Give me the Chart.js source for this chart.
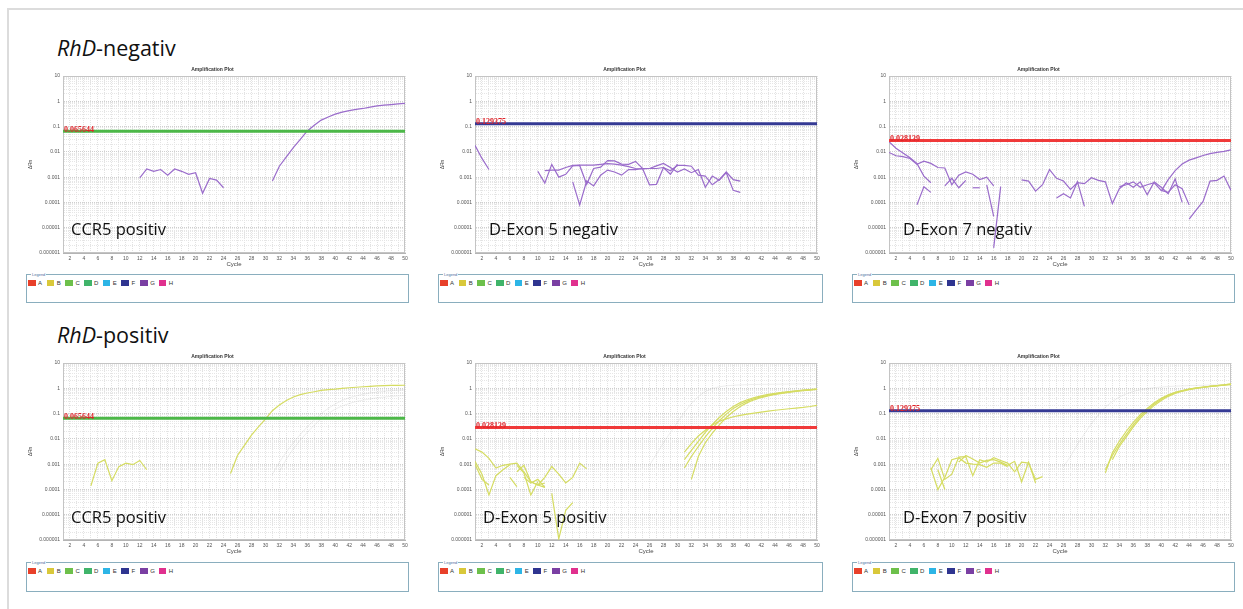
<!DOCTYPE html>
<html>
<head>
<meta charset="utf-8">
<script src="https://cdn.jsdelivr.net/npm/chart.js@4.4.1/dist/chart.umd.min.js"></script>
<style>
  body { margin: 0; background: #fff; width: 1243px; height: 609px; overflow: hidden; position: relative; font-family: "Open Sans", sans-serif; }
  .frame { position: absolute; left: 7px; top: 8px; width: 1300px; height: 700px; border-left: 2px solid #dcdcdc; border-top: 2px solid #dcdcdc; }
  .heading { position: absolute; font-size: 21.5px; line-height: 21.5px; color: #111; white-space: nowrap; }
  .note { position: absolute; font-size: 16.5px; line-height: 16.5px; color: #111; white-space: nowrap; }
  canvas { position: absolute; }
  .legend-box { position: absolute; border: 1px solid #8aaebe; }
  .legend-box .cap { position: absolute; left: 4px; top: -3px; font: 4px "Liberation Sans", Arial; color: #4a6fa0; background: #fff; padding: 0 1px; line-height: 5px; }
  .legend-box .items { position: absolute; left: 1px; top: 5px; display: flex; font: 6px "Liberation Sans", Arial; color: #333; line-height: 6px; }
  .legend-box .item { display: flex; align-items: center; width: 18.7px; }
  .legend-box .sw { width: 7.5px; height: 6px; margin-right: 2.5px; }
</style>
</head>
<body>
<div class="frame"></div>

<div class="heading" style="left:57px;top:37px"><i>RhD</i>-negativ</div>
<div class="heading" style="left:57px;top:324px"><i>RhD</i>-positiv</div>

<canvas id="c1" width="391" height="205" style="left:20px;top:63px"></canvas>
<canvas id="c2" width="391" height="205" style="left:432px;top:63px"></canvas>
<canvas id="c3" width="391" height="205" style="left:846px;top:63px"></canvas>
<canvas id="c4" width="391" height="205" style="left:20px;top:350px"></canvas>
<canvas id="c5" width="391" height="205" style="left:432px;top:350px"></canvas>
<canvas id="c6" width="391" height="205" style="left:846px;top:350px"></canvas>

<div class="note" style="left:71px;top:221px">CCR5 positiv</div>
<div class="note" style="left:489px;top:221px">D-Exon 5 negativ</div>
<div class="note" style="left:903px;top:221px">D-Exon 7 negativ</div>
<div class="note" style="left:71px;top:509px">CCR5 positiv</div>
<div class="note" style="left:483px;top:509px">D-Exon 5 positiv</div>
<div class="note" style="left:903px;top:509px">D-Exon 7 positiv</div>

<div class="legend-box" style="left:26px;top:274px;width:381px;height:27px"></div>
<div class="legend-box" style="left:438px;top:274px;width:383px;height:27px"></div>
<div class="legend-box" style="left:852px;top:274px;width:381px;height:27px"></div>
<div class="legend-box" style="left:26px;top:562px;width:381px;height:28px"></div>
<div class="legend-box" style="left:438px;top:562px;width:383px;height:28px"></div>
<div class="legend-box" style="left:852px;top:562px;width:381px;height:28px"></div>

<script>
// ── axis labels ────────────────────────────────────────────────────────────
const yDecades = [0.000001, 0.00001, 0.0001, 0.001, 0.01, 0.1, 1, 10];
const yTickLabels = ['0.000001', '0.00001', '0.0001', '0.001', '0.01', '0.1', '1', '10'];
const wellNames = ['A', 'B', 'C', 'D', 'E', 'F', 'G', 'H'];
const wellColors = ['#e8402a', '#d9c83a', '#6dc04b', '#40b46a', '#2db5e6', '#2f3590', '#7a3fa3', '#e0308e'];

// thresholds per assay
const ccr5Threshold = 0.065644;
const exon5NegThreshold = 0.129375;
const exon7NegThreshold = 0.028139;
const exon5PosThreshold = 0.028139;
const exon7PosThreshold = 0.129375;

// ── RhD-negativ, well G (each trace starts at the cycle in *Starts) ─────────
const ccr5NegStarts = [12, 31];
const ccr5NegTraces = [
  [0.00094, 0.0021, 0.0017, 0.002, 0.0012, 0.0021, 0.0017, 0.0013, 0.0015, 0.00023, 0.00089, 0.00076, 0.00038],
  [0.0007, 0.0027, 0.0063, 0.0148, 0.031, 0.067, 0.112, 0.18, 0.24, 0.31, 0.37, 0.43, 0.48, 0.52, 0.59, 0.66, 0.70, 0.74, 0.79, 0.83]
];

const exon5NegStarts = [1, 11, 10, 15];
const exon5NegTraces = [
  [0.018, 0.0055, 0.002],
  [0.0018, 0.0019, 0.0019, 0.0024, 0.0029, 0.003, 0.003, 0.003, 0.0032, 0.0034, 0.0033, 0.003, 0.0026, 0.0022, 0.0021,
   0.0022, 0.0022, 0.0024, 0.0018, 0.0029, 0.0029, 0.0027, 0.0012, 0.0011, 0.0005, 0.0008, 0.0016, 0.0008, 0.0007],
  [0.0017, 0.00058, 0.0032, 0.001, 0.0013, 0.0028, 0.0029, 0.00052, 0.0022, 0.0025, 0.0045, 0.0044, 0.0033, 0.0032, 0.0042,
   0.0022, 0.0022, 0.0028, 0.0035, 0.0024, 0.0016, 0.0021, 0.0015, 0.002, 0.0004, 0.0011, 0.00075, 0.0015, 0.0003, 0.00025],
  [0.00065, 0.00008, 0.0007, 0.00045, 0.0012, 0.0019, 0.0016, 0.0012, 0.002, 0.002, 0.0022, 0.0005, 0.00052, 0.0024, 0.0013, 0.0033]
];

const exon7NegStarts = [1, 1, 9, 5, 13, 15, 16, 20, 25, 34, 40, 44];
const exon7NegTraces = [
  [0.025, 0.014, 0.009, 0.0058, 0.0035, 0.0011, 0.0006],
  [0.0095, 0.007, 0.0065, 0.0055, 0.0032, 0.0043, 0.0035, 0.0024, 0.0023, 0.0005, 0.0012, 0.0016, 0.0013, 0.0008, 0.001, 0.00045],
  [0.00045, 0.0009, 0.00038, 0.00075],
  [0.00008, 0.00042, 0.00025],
  [0.00038, 0.00038],
  [0.0005, 0.000028],
  [0.0000016, 0.00042],
  [0.00078, 0.0007, 0.00028, 0.0005, 0.002, 0.0009, 0.0007, 0.00033, 0.0006, 0.00055, 0.00095, 0.00075, 0.00065, 0.00009,
   0.00035, 0.0006, 0.0004, 0.00065, 0.0002, 0.00065, 0.0004, 0.00022, 0.00085, 0.0001],
  [0.00015, 0.00022, 0.00015, 0.00065, 0.00007],
  [0.00042, 0.0005, 0.00065, 0.0004, 0.0005, 0.0006, 0.0003, 0.00025, 0.0005, 0.00035, 0.00008],
  [0.00028, 0.0008, 0.0018, 0.0033, 0.0047, 0.0058, 0.0072, 0.0085, 0.0095, 0.0105, 0.012],
  [0.000022, 0.00005, 0.00011, 0.0007, 0.00075, 0.0011, 0.0003]
];

// ── RhD-positiv, well B ─────────────────────────────────────────────────────
const ccr5PosStarts = [5, 25];
const ccr5PosTraces = [
  [0.00014, 0.0011, 0.0015, 0.00022, 0.0008, 0.0011, 0.00095, 0.0014, 0.0006],
  [0.00043, 0.0022, 0.0055, 0.014, 0.03, 0.06, 0.13, 0.22, 0.33, 0.45, 0.56, 0.65, 0.73, 0.82, 0.88, 0.93,
   1.0, 1.05, 1.1, 1.15, 1.2, 1.25, 1.28, 1.3, 1.31, 1.32]
];
const ccr5PosFaintStarts = [31, 32];
const ccr5PosFaint = [
  [0.0004, 0.0012, 0.003, 0.007, 0.015, 0.03, 0.055, 0.1, 0.16, 0.24, 0.33, 0.42, 0.5, 0.58, 0.65, 0.71, 0.76, 0.8, 0.84, 0.87],
  [0.0005, 0.0016, 0.004, 0.009, 0.018, 0.035, 0.062, 0.1, 0.15, 0.2, 0.25, 0.3, 0.34, 0.38, 0.42, 0.45, 0.48, 0.5, 0.52]
];

const exon5PosStarts = [31, 31, 31, 32, 1, 1, 1, 6, 7, 7, 8, 10, 12];
const exon5PosTraces = [
  [0.003, 0.0065, 0.013, 0.022, 0.035, 0.05, 0.062, 0.075, 0.085, 0.095, 0.105, 0.115, 0.125, 0.135, 0.145, 0.155, 0.165, 0.175, 0.19, 0.21],
  [0.0015, 0.0035, 0.008, 0.018, 0.037, 0.07, 0.12, 0.19, 0.27, 0.35, 0.43, 0.5, 0.57, 0.63, 0.69, 0.74, 0.79, 0.84, 0.88, 0.92],
  [0.0007, 0.002, 0.005, 0.012, 0.026, 0.052, 0.095, 0.16, 0.23, 0.31, 0.39, 0.46, 0.53, 0.6, 0.66, 0.72, 0.78, 0.83, 0.88, 0.93],
  [0.00025, 0.002, 0.007, 0.017, 0.036, 0.07, 0.12, 0.19, 0.27, 0.35, 0.43, 0.5, 0.57, 0.63, 0.69, 0.75, 0.8, 0.85, 0.9],
  [0.004, 0.003, 0.0017, 0.0007, 0.0009, 0.001, 0.0011, 0.0005, 0.0002, 0.00015, 0.00012],
  [0.0013, 0.0004, 0.00006, 0.00035, 0.0006, 0.00095],
  [0.001, 0.00025, 0.00015],
  [0.0003, 0.00013],
  [0.0009, 0.00045, 0.00006, 0.0002],
  [0.0005, 0.0009, 0.0002, 0.00015, 0.00018],
  [0.0003, 0.00018, 0.00025, 0.00012],
  [0.00015, 0.0003, 0.0008, 0.0004, 0.00018, 0.0003, 0.0011, 0.00065],
  [0.00007, 0.0000011, 0.000015, 0.00003]
];
const exon5PosFaintStarts = [26];
const exon5PosFaint = [
  [0.0009, 0.0025, 0.007, 0.018, 0.045, 0.11, 0.25, 0.48, 0.75, 0.98, 1.15, 1.25, 1.32, 1.36, 1.39, 1.41, 1.43, 1.44, 1.45, 1.46, 1.47, 1.48, 1.48, 1.49, 1.5]
];

const exon7PosStarts = [32, 32, 33, 7, 7, 8, 11];
const exon7PosTraces = [
  [0.00045, 0.0028, 0.008, 0.02, 0.045, 0.09, 0.16, 0.27, 0.4, 0.55, 0.7, 0.82, 0.93, 1.02, 1.1, 1.18, 1.25, 1.32, 1.4],
  [0.0006, 0.0022, 0.006, 0.015, 0.036, 0.075, 0.14, 0.24, 0.37, 0.52, 0.67, 0.8, 0.92, 1.03, 1.12, 1.2, 1.28, 1.36, 1.45],
  [0.0015, 0.005, 0.012, 0.03, 0.065, 0.12, 0.21, 0.33, 0.48, 0.62, 0.76, 0.88, 0.99, 1.09, 1.18, 1.27, 1.36, 1.5],
  [0.0006, 0.0017, 0.00025, 0.0004, 0.0019, 0.002, 0.00035, 0.0015, 0.0012, 0.0018, 0.0014, 0.0011, 0.0005, 0.0012, 0.0011, 0.00025, 0.00032],
  [0.0007, 0.0001, 0.0003, 0.0015, 0.0018, 0.0011, 0.001, 0.00095, 0.00075, 0.0011, 0.0011, 0.0008],
  [0.0006, 0.0001],
  [0.0012, 0.0022, 0.0016, 0.0011, 0.0014, 0.0015, 0.0012, 0.0009, 0.0013, 0.0002, 0.0012, 0.00018]
];
const exon7PosFaintStarts = [26];
const exon7PosFaint = [
  [0.0008, 0.002, 0.006, 0.016, 0.04, 0.09, 0.18, 0.3, 0.45, 0.6, 0.75, 0.88, 0.98, 1.06, 1.12, 1.17, 1.21, 1.24, 1.27, 1.3, 1.32, 1.34, 1.36, 1.38, 1.4]
];

// ── colours ─────────────────────────────────────────────────────────────────
const purpleTrace = '#9a6ccb';
const yellowTrace = '#d5dc62';
const faintTrace = 'rgba(160,160,160,0.18)';
const greenLine = '#4cb848';
const navyLine = '#353a94';
const redLine = '#f03a3a';

const panels = [
  { canvas: 'c1', starts: ccr5NegStarts, traces: ccr5NegTraces, color: purpleTrace, threshold: ccr5Threshold, thresholdColor: greenLine },
  { canvas: 'c2', starts: exon5NegStarts, traces: exon5NegTraces, color: purpleTrace, threshold: exon5NegThreshold, thresholdColor: navyLine },
  { canvas: 'c3', starts: exon7NegStarts, traces: exon7NegTraces, color: purpleTrace, threshold: exon7NegThreshold, thresholdColor: redLine },
  { canvas: 'c4', starts: ccr5PosStarts, traces: ccr5PosTraces, color: yellowTrace, threshold: ccr5Threshold, thresholdColor: greenLine,
    faintStarts: ccr5PosFaintStarts, faint: ccr5PosFaint },
  { canvas: 'c5', starts: exon5PosStarts, traces: exon5PosTraces, color: yellowTrace, threshold: exon5PosThreshold, thresholdColor: redLine,
    faintStarts: exon5PosFaintStarts, faint: exon5PosFaint },
  { canvas: 'c6', starts: exon7PosStarts, traces: exon7PosTraces, color: yellowTrace, threshold: exon7PosThreshold, thresholdColor: navyLine,
    faintStarts: exon7PosFaintStarts, faint: exon7PosFaint }
];

// ── helpers ─────────────────────────────────────────────────────────────────
function tracePoints(start, values) {
  return values.map((v, i) => ({ x: start + i, y: v }));
}
function decadeIndex(v) {
  return yDecades.findIndex(d => Math.abs(d - v) / d < 1e-6);
}

// red threshold value written at the left end of the line
const thresholdLabel = {
  id: 'thresholdLabel',
  afterDatasetsDraw(chart, args, opts) {
    const { ctx, chartArea, scales } = chart;
    const y = scales.y.getPixelForValue(opts.value);
    ctx.save();
    ctx.font = 'bold 8px "Liberation Serif", serif';
    ctx.fillStyle = '#e0242a';
    ctx.textBaseline = 'alphabetic';
    ctx.fillText(String(opts.value), chartArea.left + 1, y + 0.5);
    ctx.restore();
  }
};

const plotFrame = {
  id: 'plotFrame',
  beforeDatasetsDraw(chart) {
    const { ctx, chartArea: a } = chart;
    ctx.save();
    ctx.strokeStyle = '#c4c4c4';
    ctx.lineWidth = 1;
    ctx.strokeRect(a.left + 0.5, a.top + 0.5, a.right - a.left - 1, a.bottom - a.top - 1);
    ctx.restore();
  }
};

function makePanel(p) {
  const datasets = [{
    data: [{ x: 1, y: p.threshold }, { x: 50, y: p.threshold }],
    borderColor: p.thresholdColor, borderWidth: 3, pointRadius: 0, order: 0
  }];
  p.traces.forEach((t, i) => datasets.push({
    data: tracePoints(p.starts[i], t),
    borderColor: p.color, borderWidth: 1.2, pointRadius: 0, tension: 0, order: 1
  }));
  (p.faint || []).forEach((t, i) => datasets.push({
    data: tracePoints(p.faintStarts[i], t),
    borderColor: faintTrace, borderWidth: 1, pointRadius: 0, tension: 0, order: 2
  }));

  new Chart(document.getElementById(p.canvas), {
    type: 'line',
    data: { datasets },
    plugins: [plotFrame, thresholdLabel],
    options: {
      responsive: false,
      animation: false,
      layout: { padding: { left: 0, right: 6, top: 0, bottom: 0 } },
      plugins: {
        legend: { display: false },
        tooltip: { enabled: false },
        title: {
          display: true, text: 'Amplification Plot', color: '#333',
          font: { size: 5, family: '"Liberation Sans", Arial' }, padding: { top: 4, bottom: 3 }
        },
        thresholdLabel: { value: p.threshold }
      },
      scales: {
        x: {
          type: 'linear', min: 1, max: 50,
          afterFit: s => { s.height = 15; },
          ticks: {
            stepSize: 1, autoSkip: false, maxRotation: 0, padding: 3, color: '#555',
            font: { size: 5, family: '"Liberation Sans", Arial' },
            callback: v => (v % 2 === 0 ? v : '')
          },
          grid: { color: '#e2e2e2', drawTicks: false },
          border: { color: '#b4b4b4', dash: [1, 1] },
          title: { display: true, text: 'Cycle', color: '#444', font: { size: 6, family: '"Liberation Sans", Arial' }, padding: 0 }
        },
        y: {
          type: 'logarithmic', min: 0.000001, max: 10,
          afterFit: s => { s.width = 43; },
          afterBuildTicks: scale => {
            const ticks = [];
            yDecades.forEach((d, i) => {
              if (i === yDecades.length - 1) { ticks.push({ value: d }); return; }
              for (let m = 1; m < 10; m++) ticks.push({ value: d * m });
            });
            scale.ticks = ticks;
          },
          ticks: {
            autoSkip: false, padding: 3, color: '#555',
            font: { size: 5, family: '"Liberation Sans", Arial' },
            callback: v => { const k = decadeIndex(v); return k >= 0 ? yTickLabels[k] : ''; }
          },
          grid: {
            drawTicks: false,
            color: c => (c.tick && decadeIndex(c.tick.value) >= 0 ? '#cfcfcf' : '#e6e6e6')
          },
          border: { color: '#b4b4b4', dash: [1, 1] },
          title: { display: true, text: 'ΔRn', color: '#444', font: { size: 5, family: '"Liberation Sans", Arial' }, padding: { top: 8, bottom: 0 } }
        }
      }
    }
  });
}

panels.forEach(makePanel);

// legend boxes (well colours)
document.querySelectorAll('.legend-box').forEach(box => {
  box.innerHTML = '<span class="cap">Legend</span><div class="items">' +
    wellNames.map((n, i) =>
      `<span class="item"><span class="sw" style="background:${wellColors[i]}"></span>${n}</span>`
    ).join('') + '</div>';
});
</script>
</body>
</html>
